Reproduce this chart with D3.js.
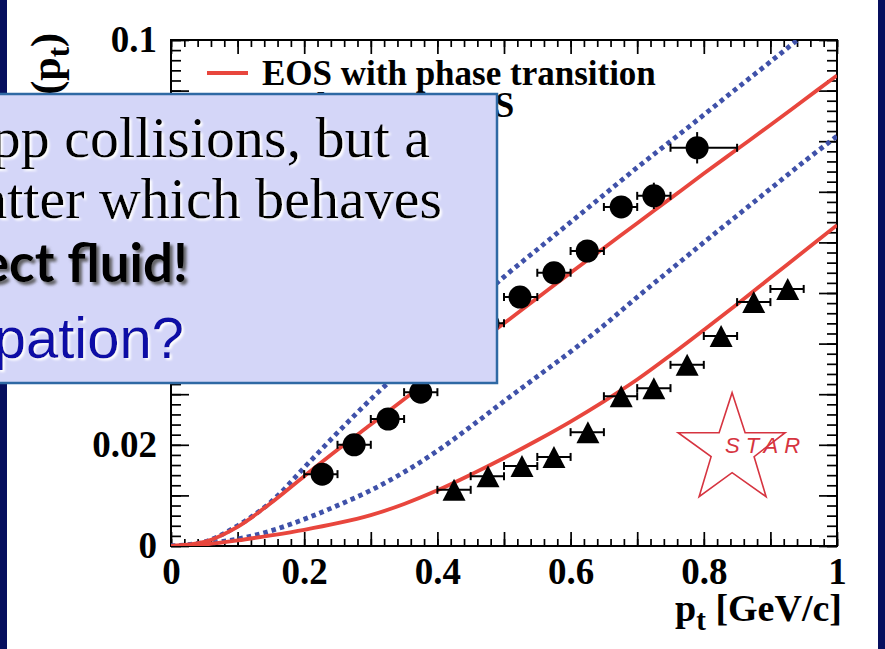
<!DOCTYPE html>
<html><head><meta charset="utf-8">
<script src="https://cdn.jsdelivr.net/npm/d3@7"></script>
<style>
html,body{margin:0;padding:0;background:#fff;overflow:hidden}
svg{display:block}
</style></head>
<body>
<script>
// ---------------- DATA ----------------
const ptCircle   = [0.227,0.275,0.326,0.375,0.426,0.476,0.524,0.575,0.625,0.676,0.725,0.790];
const v2Circle   = [0.0142,0.0200,0.0251,0.0304,0.0375,0.0440,0.0492,0.0540,0.0583,0.0670,0.0692,0.0787];
const errCircle  = [0.0008,0.0008,0.0009,0.0010,0.0011,0.0012,0.0012,0.0014,0.0016,0.0018,0.0026,0.0031];
const loCircle   = [0.20,0.25,0.30,0.35,0.40,0.45,0.50,0.55,0.60,0.65,0.70,0.75];
const hiCircle   = [0.25,0.30,0.35,0.40,0.45,0.50,0.55,0.60,0.65,0.70,0.75,0.85];

const ptTri  = [0.425,0.476,0.527,0.575,0.626,0.676,0.725,0.775,0.826,0.875,0.926];
const v2Tri  = [0.0111,0.0138,0.0158,0.0176,0.0225,0.0296,0.0312,0.0358,0.0415,0.0482,0.0508];
const errTri = [0.0006,0.0006,0.0007,0.0007,0.0008,0.0008,0.0009,0.0010,0.0011,0.0012,0.0013];
const loTri  = [0.40,0.45,0.50,0.55,0.60,0.65,0.70,0.75,0.80,0.85,0.90];
const hiTri  = [0.45,0.50,0.55,0.60,0.65,0.70,0.75,0.80,0.85,0.90,0.95];

const ptCurve   = [0,0.05,0.1,0.15,0.2,0.25,0.3,0.35,0.4,0.45,0.5,0.55,0.6,0.65,0.7,0.75,0.8,0.85,0.9,0.95,1.0];
const redUpper  = [0,0.0008,0.0038,0.0085,0.0138,0.0190,0.0240,0.0290,0.0340,0.0390,0.0440,0.0490,0.0540,0.0589,0.0638,0.0687,0.0736,0.0784,0.0832,0.0881,0.0930];
const blueUpper = [0,0.0008,0.0040,0.0087,0.0155,0.0224,0.0290,0.0352,0.0413,0.0473,0.0532,0.0586,0.0640,0.0694,0.0748,0.0800,0.0852,0.0905,0.0957,0.1010,0.1062];
const redLower  = [0,0.0003,0.0011,0.0021,0.0032,0.0045,0.0061,0.0083,0.0110,0.0141,0.0174,0.0209,0.0246,0.0286,0.0329,0.0377,0.0427,0.0478,0.0530,0.0582,0.0634];
const blueLower = [0,0.0004,0.0014,0.0030,0.0053,0.0080,0.0110,0.0146,0.0188,0.0236,0.0286,0.0335,0.0384,0.0436,0.0492,0.0546,0.0600,0.0653,0.0706,0.0759,0.0810];

const xTickValues = [0,0.2,0.4,0.6,0.8,1];
const xTickLabels = ["0","0.2","0.4","0.6","0.8","1"];
const yTickValues = [0,0.02,0.04,0.06,0.08,0.1];
const yTickLabels = ["0","0.02","0.04","0.06","0.08","0.1"];

const legendLabels = ["EOS with phase transition","Hadron gas EOS"];
const boxLines = ["Not a superposition of pp collisions, but a","but a new form of matter which behaves","like a perfect fluid!","Small viscous dissipation?"];

// ---------------- LAYOUT ----------------
const W = 885, H = 649;
const svg = d3.select("body").append("svg").attr("width",W).attr("height",H);
const x = d3.scaleLinear().domain([0,1]).range([171,837]);
const y = d3.scaleLinear().domain([0,0.1]).range([546,40]);
const RED = "#e8463d", BLUE = "#3f51a9", NAVY = "#060f5e";
const SERIF = "'Liberation Serif','Times New Roman',serif";
const SANS = "Lato,'Liberation Sans',sans-serif";
const ARIAL = "'Liberation Sans',Arial,sans-serif";

const defs = svg.append("defs");
defs.append("clipPath").attr("id","plotclip").append("rect")
  .attr("x",x(0)).attr("y",y(0.1)).attr("width",x(1)-x(0)).attr("height",y(0)-y(0.1));
const fWhite = defs.append("filter").attr("id","glow").attr("x","-10%").attr("y","-20%").attr("width","130%").attr("height","150%");
fWhite.append("feDropShadow").attr("dx",2).attr("dy",2).attr("stdDeviation",1.2).attr("flood-color","#ffffff").attr("flood-opacity",1);
const fDark = defs.append("filter").attr("id","shadow").attr("x","-10%").attr("y","-20%").attr("width","130%").attr("height","150%");
fDark.append("feDropShadow").attr("dx",3).attr("dy",3).attr("stdDeviation",1.5).attr("flood-color","#555").attr("flood-opacity",0.9);

svg.append("rect").attr("width",W).attr("height",H).attr("fill","#fff");
svg.append("rect").attr("x",0).attr("y",0).attr("width",7).attr("height",H).attr("fill",NAVY);
svg.append("rect").attr("x",878).attr("y",0).attr("width",7).attr("height",H).attr("fill",NAVY);

// ---------------- AXES ----------------
const xMinor = d3.range(0,51).map(i=>i/50);
const xMajor = d3.range(0,11).map(i=>i/10);
const yMinor = d3.range(0,51).map(i=>i/500);
const yMajor = d3.range(0,11).map(i=>i/100);

function styleAxis(g){
  g.select(".domain").remove();
  g.selectAll(".tick line").attr("stroke","#000").attr("stroke-width",1.7);
}
svg.append("g").attr("transform",`translate(0,${y(0)})`)
  .call(d3.axisBottom(x).tickValues(xMinor).tickSize(-7).tickFormat("")).call(styleAxis);
svg.append("g").attr("transform",`translate(0,${y(0)})`)
  .call(d3.axisBottom(x).tickValues(xMajor).tickSize(-14).tickFormat("")).call(styleAxis);
svg.append("g").attr("transform",`translate(0,${y(0.1)})`)
  .call(d3.axisTop(x).tickValues(xMinor).tickSize(-7).tickFormat("")).call(styleAxis);
svg.append("g").attr("transform",`translate(0,${y(0.1)})`)
  .call(d3.axisTop(x).tickValues(xMajor).tickSize(-14).tickFormat("")).call(styleAxis);
svg.append("g").attr("transform",`translate(${x(0)},0)`)
  .call(d3.axisLeft(y).tickValues(yMinor).tickSize(-10).tickFormat("")).call(styleAxis);
svg.append("g").attr("transform",`translate(${x(0)},0)`)
  .call(d3.axisLeft(y).tickValues(yMajor).tickSize(-18).tickFormat("")).call(styleAxis);
svg.append("g").attr("transform",`translate(${x(1)},0)`)
  .call(d3.axisRight(y).tickValues(yMinor).tickSize(-10).tickFormat("")).call(styleAxis);
svg.append("g").attr("transform",`translate(${x(1)},0)`)
  .call(d3.axisRight(y).tickValues(yMajor).tickSize(-18).tickFormat("")).call(styleAxis);

// tick labels
const xl = svg.append("g").attr("transform",`translate(0,${y(0)})`)
  .call(d3.axisBottom(x).tickValues(xTickValues).tickSize(0).tickPadding(12)
    .tickFormat((d,i)=>xTickLabels[i]));
xl.select(".domain").remove();
xl.selectAll("text").attr("font-family",SERIF).attr("font-weight","bold").attr("font-size",37).attr("fill","#000");
const yl = svg.append("g").attr("transform",`translate(${x(0)},0)`)
  .call(d3.axisLeft(y).tickValues(yTickValues).tickSize(0).tickPadding(14)
    .tickFormat((d,i)=>yTickLabels[i]));
yl.select(".domain").remove();
yl.selectAll("text").attr("font-family",SERIF).attr("font-weight","bold").attr("font-size",37).attr("fill","#000");

// frame
svg.append("rect").attr("x",x(0)).attr("y",y(0.1)).attr("width",x(1)-x(0)).attr("height",y(0)-y(0.1))
  .attr("fill","none").attr("stroke","#000").attr("stroke-width",2);

// axis titles
const xt = svg.append("text").attr("x",842).attr("y",621).attr("text-anchor","end")
  .attr("font-family",SERIF).attr("font-weight","bold").attr("font-size",38).attr("fill","#000");
xt.append("tspan").text("p");
xt.append("tspan").attr("baseline-shift","-30%").attr("font-size",29).text("t");
xt.append("tspan").text(" [GeV/c]");

const yt = svg.append("text").attr("transform","translate(60,33) rotate(-90)").attr("text-anchor","end")
  .attr("font-family",SERIF).attr("font-weight","bold").attr("font-size",42).attr("fill","#000");
yt.append("tspan").text("v");
yt.append("tspan").attr("baseline-shift","-30%").attr("font-size",31).text("2");
yt.append("tspan").attr("baseline-shift","0%").text("(p");
yt.append("tspan").attr("baseline-shift","-30%").attr("font-size",31).text("t");
yt.append("tspan").text(")");

// ---------------- CURVES ----------------
const plot = svg.append("g").attr("clip-path","url(#plotclip)");
const curves = [
  {vals: blueUpper, color: BLUE, dash:"4.5 4", w:4.8},
  {vals: blueLower, color: BLUE, dash:"4.5 4", w:4.8},
  {vals: redUpper,  color: RED,  dash:null,  w:3.8},
  {vals: redLower,  color: RED,  dash:null,  w:3.8}
];
const line = d3.line().x(d=>x(d[0])).y(d=>y(d[1])).curve(d3.curveCatmullRom.alpha(0.5));
curves.forEach(c=>{
  plot.append("path").datum(ptCurve.map((p,i)=>[p,c.vals[i]]))
    .attr("d",line).attr("fill","none").attr("stroke",c.color).attr("stroke-width",c.w)
    .attr("stroke-dasharray",c.dash);
});

// ---------------- DATA POINTS ----------------
function errorBars(g, pts, vals, errs, los, his){
  const data = pts.map((p,i)=>({p, v:vals[i], e:errs[i], lo:los[i], hi:his[i]}));
  const eg = g.append("g").attr("stroke","#000").attr("stroke-width",2);
  data.forEach(d=>{
    eg.append("line").attr("x1",x(d.lo)).attr("x2",x(d.hi)).attr("y1",y(d.v)).attr("y2",y(d.v));
    eg.append("line").attr("x1",x(d.lo)).attr("x2",x(d.lo)).attr("y1",y(d.v)-4).attr("y2",y(d.v)+4);
    eg.append("line").attr("x1",x(d.hi)).attr("x2",x(d.hi)).attr("y1",y(d.v)-4).attr("y2",y(d.v)+4);
    eg.append("line").attr("x1",x(d.p)).attr("x2",x(d.p)).attr("y1",y(d.v+d.e)).attr("y2",y(d.v-d.e));
  });
  return data;
}
const cData = errorBars(svg, ptCircle, v2Circle, errCircle, loCircle, hiCircle);
svg.append("g").selectAll("circle").data(cData).join("circle")
  .attr("cx",d=>x(d.p)).attr("cy",d=>y(d.v)).attr("r",11.5).attr("fill","#000");
const tData = errorBars(svg, ptTri, v2Tri, errTri, loTri, hiTri);
svg.append("g").selectAll("path").data(tData).join("path")
  .attr("transform",d=>`translate(${x(d.p)},${y(d.v)})`)
  .attr("d","M0,-11L11.5,11L-11.5,11Z").attr("fill","#000");

// ---------------- LEGEND ----------------
svg.append("line").attr("x1",207).attr("x2",248).attr("y1",73).attr("y2",73).attr("stroke",RED).attr("stroke-width",3.8);
svg.append("text").attr("x",262).attr("y",85).attr("font-family",SERIF).attr("font-weight","bold")
  .attr("font-size",35).attr("fill","#000").text(legendLabels[0]);
svg.append("line").attr("x1",207).attr("x2",248).attr("y1",106).attr("y2",106).attr("stroke",BLUE).attr("stroke-width",4.8).attr("stroke-dasharray","4.5 4");
svg.append("text").attr("x",262).attr("y",117).attr("font-family",SERIF).attr("font-weight","bold")
  .attr("font-size",35).attr("fill","#000").text(legendLabels[1]);

// ---------------- STAR LOGO ----------------
const starOffsets = [[0,0],[13,40],[53,40],[22,64],[34,104],[0,80],[-33,104],[-21,64],[-54,40],[-13,40]];
const sx = x(0.8425), sy = y(0.0303);
svg.append("polygon").attr("points",starOffsets.map(o=>[sx+o[0],sy+o[1]].join(",")).join(" "))
  .attr("fill","none").attr("stroke","#d63440").attr("stroke-width",1.6).attr("stroke-linejoin","miter");
svg.append("text").attr("x",sx-7).attr("y",sy+60).attr("font-family",ARIAL)
  .attr("font-style","italic").attr("font-size",22).attr("letter-spacing",6).attr("fill","#d63440").text("STAR");

// ---------------- OVERLAY BOX ----------------
svg.append("rect").attr("x",-20).attr("y",94).attr("width",517).attr("height",289)
  .attr("fill","#d4d6f8").attr("stroke","#2f69a4").attr("stroke-width",2.5);
svg.append("text").attr("x",430).attr("y",157).attr("text-anchor","end").attr("font-family",SERIF)
  .attr("font-size",58).attr("fill","#000").attr("filter","url(#glow)").text(boxLines[0]);
svg.append("text").attr("x",442).attr("y",218).attr("text-anchor","end").attr("font-family",SERIF)
  .attr("font-size",58).attr("fill","#000").attr("filter","url(#glow)").text(boxLines[1]);
svg.append("text").attr("x",188).attr("y",282).attr("text-anchor","end").attr("font-family",SANS)
  .attr("font-weight","bold").attr("font-size",53).attr("fill","#000").attr("filter","url(#shadow)").text(boxLines[2]);
svg.append("text").attr("x",184).attr("y",358).attr("text-anchor","end").attr("font-family",ARIAL)
  .attr("font-size",58).attr("fill","#0c0ca6").attr("filter","url(#glow)").text(boxLines[3]);
</script>
</body></html>
